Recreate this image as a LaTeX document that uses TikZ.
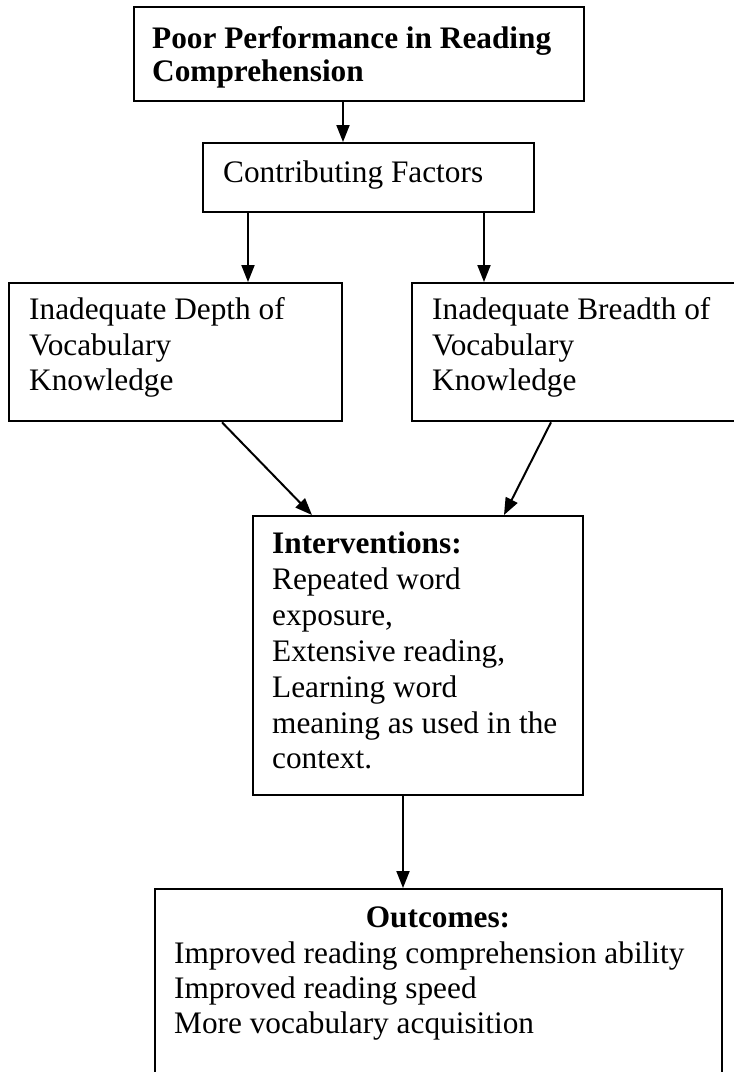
\documentclass[tikz,border=0pt]{standalone}
\usepackage{fontspec}
\setmainfont{Liberation Serif}
\usetikzlibrary{arrows.meta}
\begin{document}
\begin{tikzpicture}[x=1pt,y=-1pt,
  boxnode/.style={draw=black, line width=2.3pt, inner sep=0pt, anchor=north west},
  txt/.style={inner sep=0pt, anchor=base west, font=\fontsize{31.3}{35.7}\selectfont, text=black},
  btxt/.style={txt, font=\fontsize{31.3}{35.7}\selectfont\bfseries},
  arr/.style={line width=2pt, draw=black, -{Triangle[length=17pt,width=13pt]}}]
\useasboundingbox (0,0) rectangle (734,1072);
\clip (0,0) rectangle (734,1072);
% boxes
\node[boxnode, minimum width=450pt, minimum height=94pt] (b1) at (133,6) {};
\node[boxnode, minimum width=331pt, minimum height=69pt] (b2) at (202,142) {};
\node[boxnode, minimum width=333pt, minimum height=138pt] (b3) at (8,282) {};
\node[boxnode, minimum width=328pt, minimum height=138pt] (b4) at (411,282) {};
\node[boxnode, minimum width=330pt, minimum height=279pt] (b5) at (252,515) {};
\node[boxnode, minimum width=567pt, minimum height=184pt] (b6) at (154,888) {};
% texts
\node[btxt] (t1a) at (152,48) {Poor Performance in Reading};
\node[btxt] (t1b) at (152,81) {Comprehension};
\node[txt] (t2) at (223,182) {Contributing Factors};
\node[txt] (t3a) at (29,319) {Inadequate Depth of};
\node[txt] (t3b) at (29,355) {Vocabulary};
\node[txt] (t3c) at (29,390) {Knowledge};
\node[txt] (t4a) at (432,319) {Inadequate Breadth of};
\node[txt] (t4b) at (432,355) {Vocabulary};
\node[txt] (t4c) at (432,390) {Knowledge};
\node[btxt] (t5a) at (272,553) {Interventions:};
\node[txt] (t5b) at (272,589) {Repeated word};
\node[txt] (t5c) at (272,625) {exposure,};
\node[txt] (t5d) at (272,661) {Extensive reading,};
\node[txt] (t5e) at (272,697) {Learning word};
\node[txt] (t5f) at (272,733) {meaning as used in the};
\node[txt] (t5g) at (272,768) {context.};
\node[btxt, anchor=base] (t6a) at (438,927) {Outcomes:};
\node[txt] (t6b) at (174,963) {Improved reading comprehension ability};
\node[txt] (t6c) at (174,998) {Improved reading speed};
\node[txt] (t6d) at (174,1033) {More vocabulary acquisition};
% connectors
\draw[arr] (b1.south -| 343,0) -- (b2.north -| 343,0);
\draw[arr] (b2.south -| 248,0) -- (b3.north -| 248,0);
\draw[arr] (b2.south -| 484,0) -- (b4.north -| 484,0);
\draw[arr] (b3.south -| 222,0) -- (b5.north -| 312,0);
\draw[arr] (b4.south -| 551,0) -- (b5.north -| 504,0);
\draw[arr] (b5.south -| 403,0) -- (b6.north -| 403,0);
\end{tikzpicture}
\end{document}
